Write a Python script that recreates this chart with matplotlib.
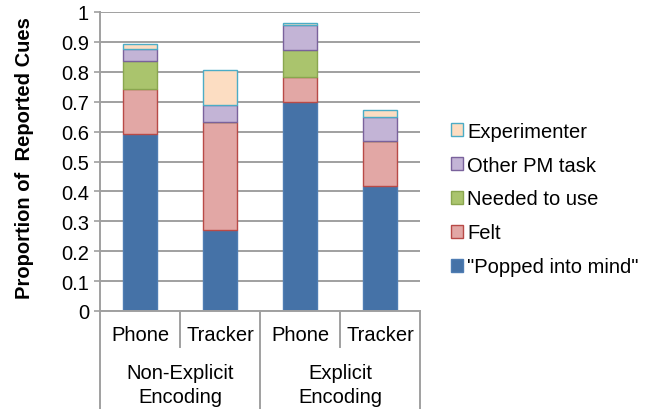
import numpy as np
import matplotlib
matplotlib.use("Agg")
import matplotlib.pyplot as plt

plt.rcParams["font.family"] = ["Liberation Sans", "DejaVu Sans"]

conditions = ["Phone", "Tracker", "Phone", "Tracker"]
groups = [["Non-Explicit", "Encoding"], ["Explicit", "Encoding"]]

popped = [0.592, 0.270, 0.700, 0.419]
felt = [0.149, 0.361, 0.081, 0.151]
needed = [0.094, 0.0, 0.093, 0.0]
other_pm = [0.040, 0.059, 0.081, 0.080]
experimenter = [0.017, 0.117, 0.007, 0.023]

series = [
    ('"Popped into mind"', popped, "#4572A7", "#4F7DB3"),
    ("Felt", felt, "#E2A7A5", "#B84A47"),
    ("Needed to use", needed, "#AAC46D", "#8AA64F"),
    ("Other PM task", other_pm, "#C3B4D6", "#7A629C"),
    ("Experimenter", experimenter, "#FCDDC2", "#4BACC6"),
]

fig = plt.figure(figsize=(6.52, 4.10), dpi=100)
ax = fig.add_axes([100 / 652, 98 / 410, 320 / 652, 299 / 410])

x = np.arange(len(conditions))
bottom = np.zeros(len(conditions))
handles = []
for label, vals, fc, ec in series:
    vals = np.array(vals)
    b = ax.bar(x, vals, width=0.42, bottom=bottom, color=fc, edgecolor=ec,
               linewidth=1.0, label=label, zorder=3)
    handles.append(b)
    bottom += vals

ax.set_xlim(-0.5, 3.5)
ax.set_ylim(0, 1)
ax.set_yticks(np.arange(0, 1.01, 0.1))
ax.set_yticklabels(["0"] + [f"{v:.1f}" for v in np.arange(0.1, 0.95, 0.1)] + ["1"])
ax.tick_params(axis="y", labelsize=14.5, length=4, color="#A0A0A0", width=1.2, pad=4)
ax.set_xticks([])
ax.yaxis.grid(True, color="#A0A0A0", linewidth=1.4, zorder=0)
ax.set_axisbelow(True)

for s in ["top", "right", "bottom"]:
    ax.spines[s].set_visible(False)
ax.spines["left"].set_color("#A0A0A0")
ax.spines["left"].set_linewidth(1.4)
ax.spines["left"].set_bounds(0, 1)

# category box lines below axis
tr = ax.get_xaxis_transform()
depth = -98 / 299
ax.plot([-0.5, 3.5], [0, 0], transform=tr, color="#A0A0A0", lw=1.4, clip_on=False, zorder=4)
for xv in [-0.5, 1.5, 3.5]:
    ax.plot([xv, xv], [0, depth], transform=tr, color="#A0A0A0", lw=1.4, clip_on=False)
for xv in [0.5, 2.5]:
    ax.plot([xv, xv], [0, -36 / 299], transform=tr, color="#A0A0A0", lw=1.4, clip_on=False)

for xi, c in zip(x, conditions):
    ax.text(xi, -24 / 299, c, transform=tr, ha="center", va="center", fontsize=14.5)
for gi, g in enumerate(groups):
    ax.text(0.5 + 2 * gi, -62 / 299, g[0], transform=tr, ha="center", va="center", fontsize=14.5)
    ax.text(0.5 + 2 * gi, -86 / 299, g[1], transform=tr, ha="center", va="center", fontsize=14.5)

fig.text(25 / 652, 1 - 158 / 410, "Proportion of  Reported Cues", rotation=90,
         ha="center", va="center", fontsize=14.5, fontweight="bold")

fig.legend(handles[::-1], [s[0] for s in series][::-1], loc="center left",
           bbox_to_anchor=(451 / 652, 1 - 200 / 410), frameon=False,
           fontsize=14.5, handlelength=0.6, handleheight=0.6, handletextpad=0.2,
           labelspacing=0.74, borderpad=0, borderaxespad=0)

fig.savefig("out.png", dpi=100)
